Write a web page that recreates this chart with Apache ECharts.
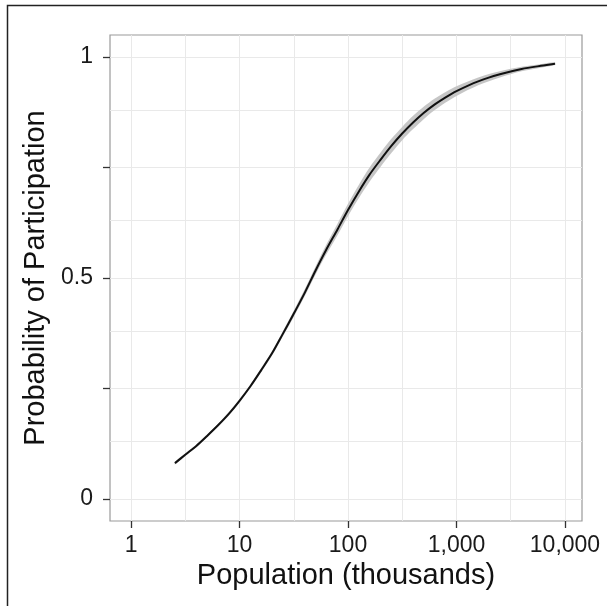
<!DOCTYPE html>
<html><head><meta charset="utf-8">
<script src="https://cdn.jsdelivr.net/npm/echarts@6/dist/echarts.min.js"></script>
<style>html,body{margin:0;padding:0;background:#fff}#c{width:607px;height:606px}</style>
</head><body><div id="c"></div>
<script>
// Population (thousands) and fitted probability of participation
const population = [2.54, 3.16, 4, 5, 6.3, 8, 10, 12.6, 15.8, 20, 25, 31.6, 40, 50, 63, 80, 100, 126, 158, 200, 251, 316, 398, 501, 631, 794, 1000, 1585, 2512, 3981, 6310, 8090];
const probability = [0.081, 0.100, 0.120, 0.142, 0.166, 0.193, 0.222, 0.255, 0.291, 0.330, 0.373, 0.419, 0.467, 0.516, 0.564, 0.610, 0.654, 0.696, 0.734, 0.768, 0.799, 0.827, 0.852, 0.874, 0.893, 0.909, 0.923, 0.945, 0.961, 0.973, 0.981, 0.985];
const ciLow  = [0.078, 0.097, 0.117, 0.139, 0.163, 0.189, 0.218, 0.251, 0.286, 0.325, 0.367, 0.412, 0.459, 0.507, 0.553, 0.597, 0.640, 0.681, 0.718, 0.752, 0.783, 0.812, 0.837, 0.860, 0.880, 0.897, 0.912, 0.936, 0.954, 0.968, 0.977, 0.982];
const ciHigh = [0.084, 0.103, 0.123, 0.145, 0.169, 0.197, 0.226, 0.259, 0.296, 0.335, 0.379, 0.426, 0.475, 0.525, 0.575, 0.623, 0.668, 0.711, 0.750, 0.784, 0.815, 0.842, 0.867, 0.888, 0.906, 0.921, 0.934, 0.954, 0.968, 0.978, 0.985, 0.988];

const xTickValues = [1, 10, 100, 1000, 10000];
const xTickLabels = ['1', '10', '100', '1,000', '10,000'];
const xGridValues = [1, 3.1623, 10, 31.623, 100, 316.23, 1000, 3162.3, 10000];
const yTickValues = [0, 0.25, 0.5, 0.75, 1];
const yLabelValues = [0, 0.5, 1];
const yTickLabels = ['0', '0.5', '1'];
const yGridValues = [0, 0.125, 0.25, 0.375, 0.5, 0.625, 0.75, 0.875, 1];
const xRange = [0.64, 14350];
const yRange = [-0.05, 1.05];

const lg = v => Math.log10(v);
const curve = population.map((p, i) => [lg(p), probability[i]]);
const band = population.map((p, i) => [lg(p), ciLow[i], ciHigh[i]]);

const FONT = "'Liberation Sans', Arial, Helvetica, sans-serif";
const chart = echarts.init(document.getElementById('c'), null, {renderer: 'canvas'});
const gridLine = {type: 'solid', color: '#e9e9e9', width: 1};

chart.setOption({
  animation: false,
  backgroundColor: '#fff',
  textStyle: {fontFamily: FONT},
  graphic: [{
    type: 'rect', silent: true, z: 100,
    shape: {x: 7.5, y: 5.5, width: 700, height: 700},
    style: {fill: 'none', stroke: '#222', lineWidth: 1.5}
  }],
  grid: {left: 110, top: 35, right: 25, bottom: 85, show: true, borderColor: '#9a9a9a', borderWidth: 1.2, backgroundColor: '#fff'},
  xAxis: {
    type: 'value', min: lg(xRange[0]), max: lg(xRange[1]),
    name: 'Population (thousands)', nameLocation: 'middle', nameGap: 35,
    nameTextStyle: {fontSize: 29, color: '#111', fontFamily: FONT},
    axisLine: {show: false, onZero: false},
    splitLine: {show: false},
    axisTick: {show: true, length: 7, customValues: xTickValues.map(lg), lineStyle: {color: '#333', width: 1.3}},
    axisLabel: {
      customValues: xTickValues.map(lg), margin: 13, fontSize: 23, color: '#1a1a1a', fontFamily: FONT,
      formatter: v => { const i = xTickValues.findIndex(t => Math.abs(lg(t) - v) < 1e-6); return i >= 0 ? xTickLabels[i] : ''; }
    }
  },
  yAxis: {
    type: 'value', min: yRange[0], max: yRange[1],
    name: 'Probability of Participation', nameLocation: 'middle', nameGap: 52,
    nameTextStyle: {fontSize: 29, color: '#111', fontFamily: FONT},
    axisLine: {show: false, onZero: false},
    splitLine: {show: false},
    axisTick: {show: true, length: 7, customValues: yTickValues, lineStyle: {color: '#333', width: 1.3}},
    axisLabel: {
      customValues: yLabelValues, margin: 17, fontSize: 23, color: '#1a1a1a', fontFamily: FONT,
      formatter: v => { const i = yLabelValues.findIndex(t => Math.abs(t - v) < 1e-9); return i >= 0 ? yTickLabels[i] : ''; }
    }
  },
  series: [
    {
      type: 'line', data: [], z: 1, silent: true, symbol: 'none',
      markLine: {
        silent: true, symbol: ['none', 'none'], label: {show: false}, z: 1, animation: false,
        lineStyle: gridLine, emphasis: {disabled: true},
        data: xGridValues.map(v => ({xAxis: lg(v)})).concat(yGridValues.map(v => ({yAxis: v})))
      }
    },
    {
      type: 'custom', z: 10, silent: true, data: [0],
      renderItem: (params, api) => {
        const upper = band.map(d => api.coord([d[0], d[2]]));
        const lower = band.map(d => api.coord([d[0], d[1]])).reverse();
        return {
          type: 'polygon',
          shape: {points: upper.concat(lower), smooth: 0.3},
          style: {fill: '#c6c6c6', stroke: null}
        };
      }
    },
    {
      type: 'line', data: curve, symbol: 'none', smooth: 0.3, z: 12, silent: true,
      lineStyle: {color: '#111', width: 2}
    }
  ]
});
</script></body></html>
